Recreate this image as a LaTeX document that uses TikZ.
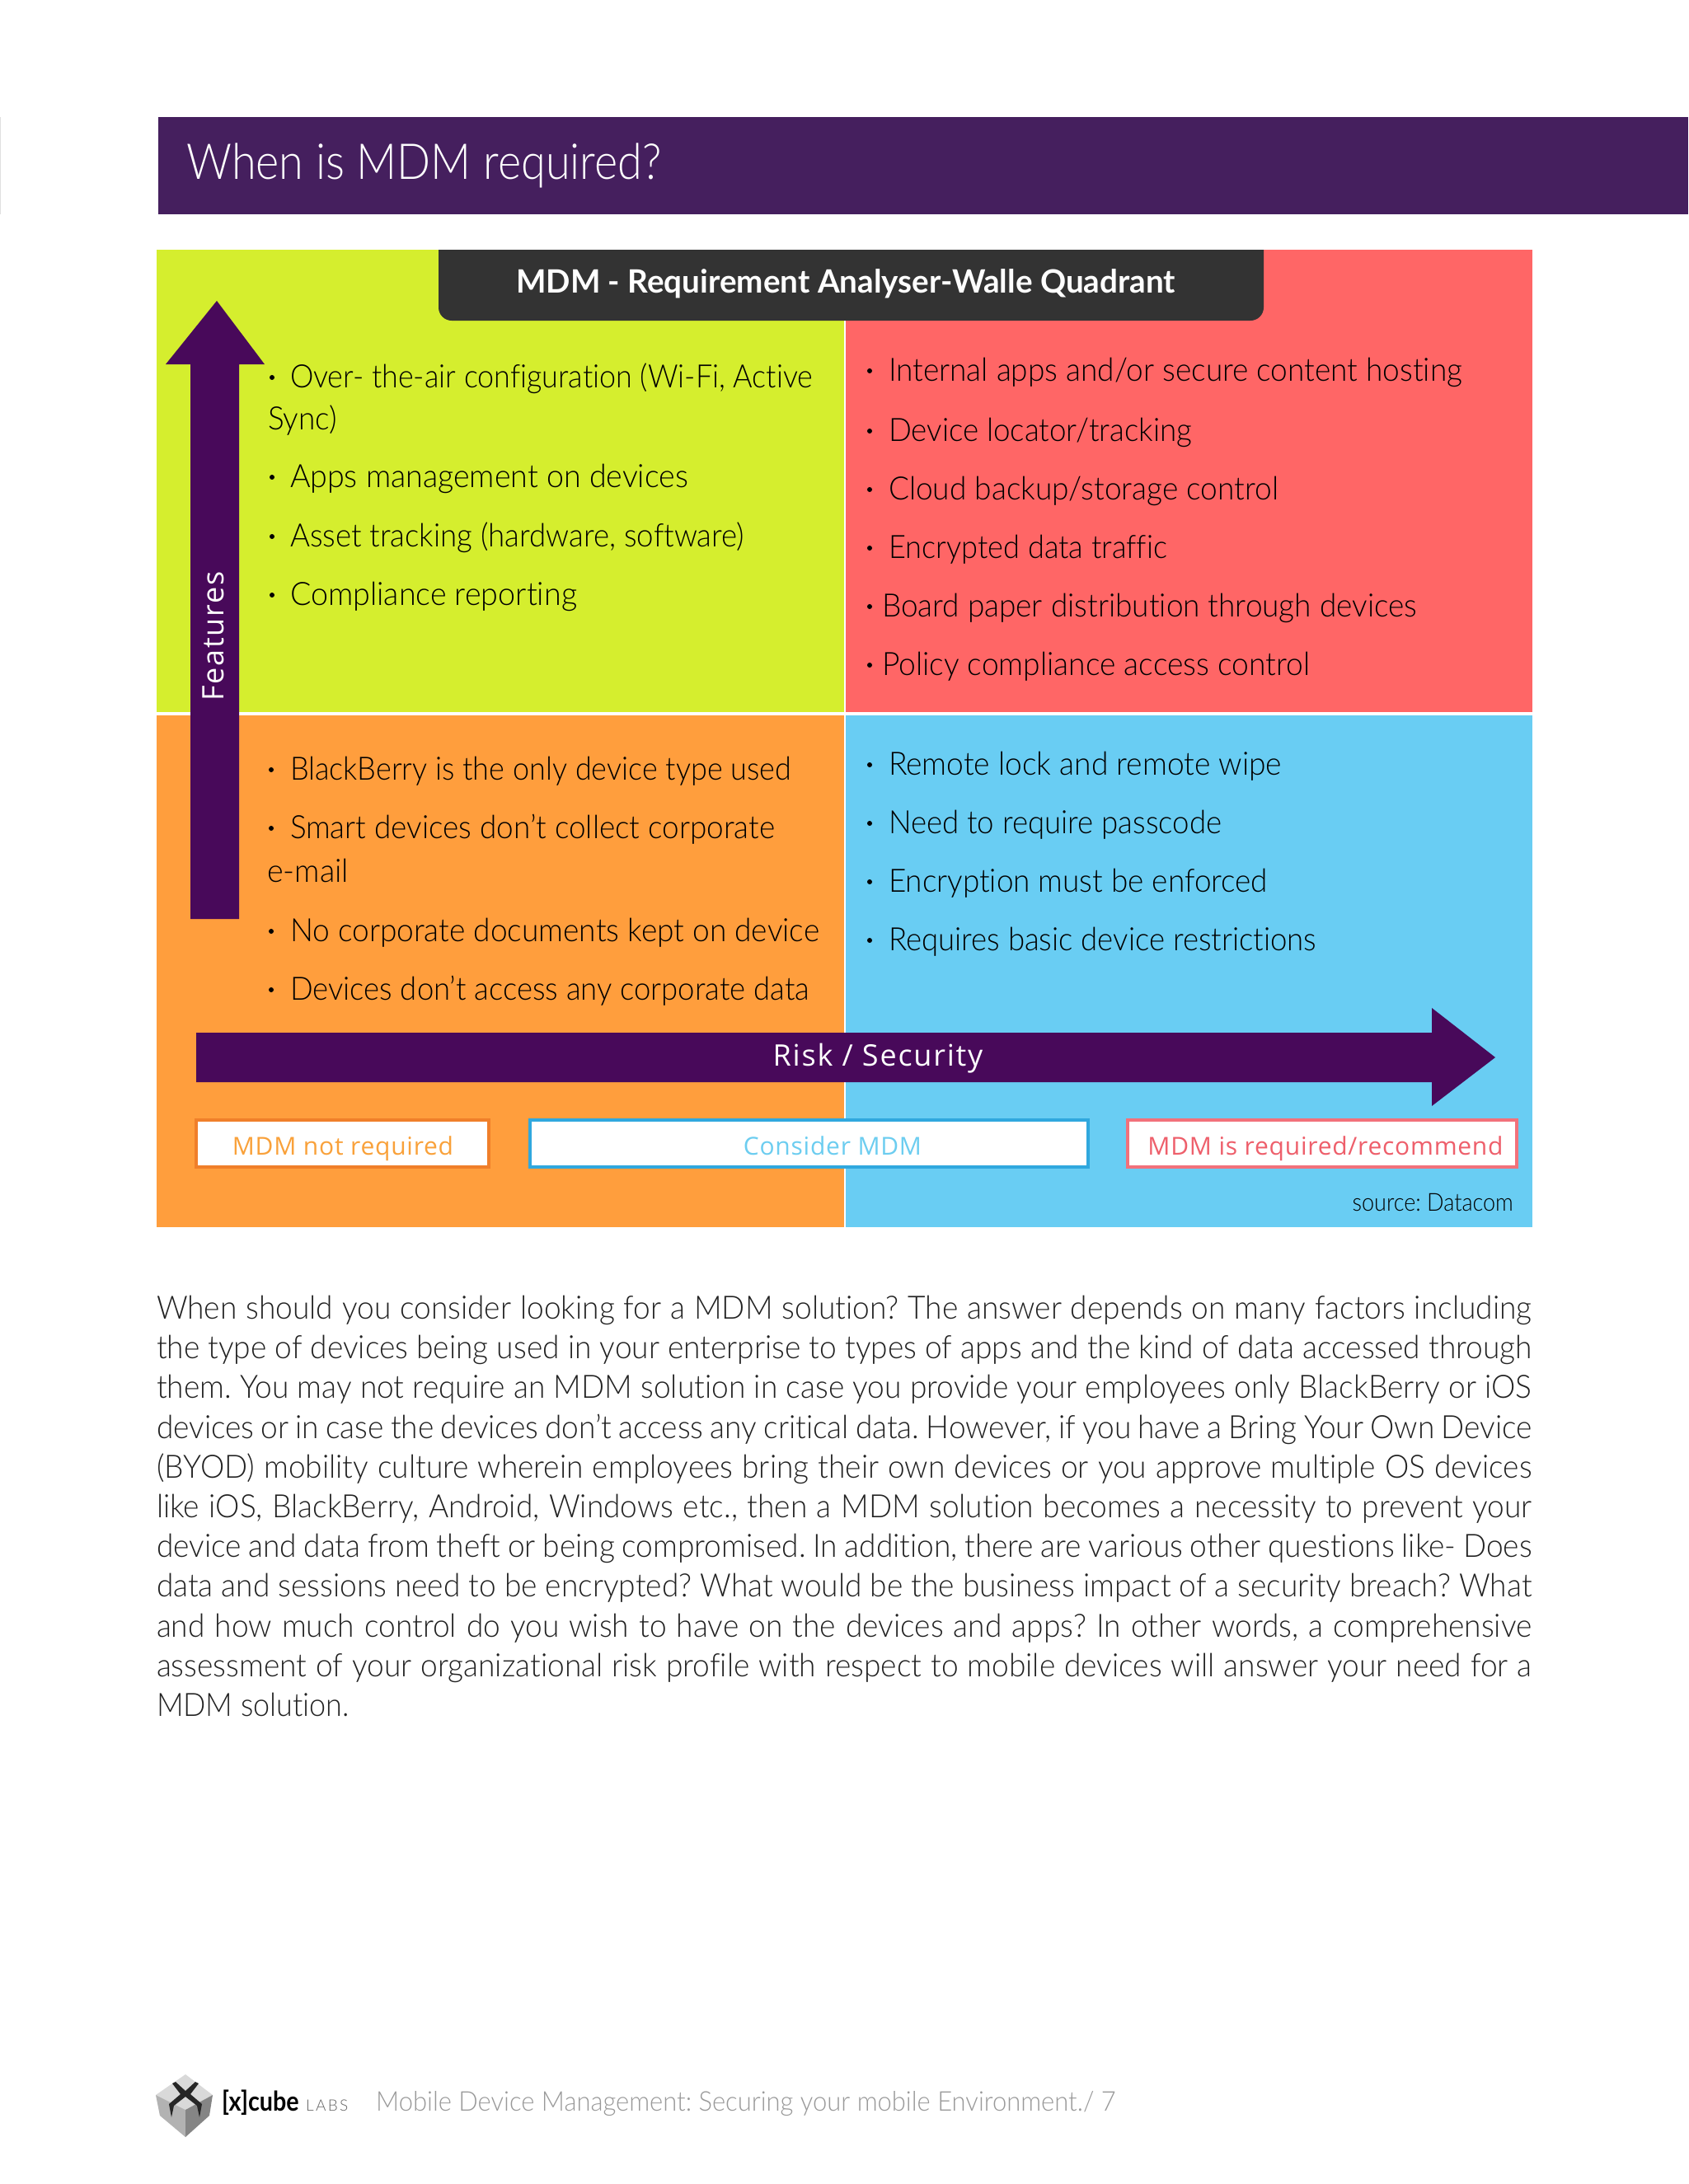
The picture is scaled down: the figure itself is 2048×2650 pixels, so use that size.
\documentclass[tikz,border=0pt]{standalone}
\usepackage{fontspec}
\usepackage{graphicx}
\setmainfont{Lato}[UprightFont=* Light,BoldFont=* Bold,Ligatures=NoCommon]
\newfontfamily\opensans{Open Sans}
\definecolor{qgreen}{HTML}{D5EE2E}
\definecolor{qred}{HTML}{FF6666}
\definecolor{qorange}{HTML}{FF9E3D}
\definecolor{qblue}{HTML}{69CDF3}
\definecolor{arrowpurple}{HTML}{48095A}
\definecolor{bannerpurple}{HTML}{451F5E}
\definecolor{barblack}{HTML}{333333}
\definecolor{bxorange}{HTML}{F07F2A}
\definecolor{bxblue}{HTML}{30A8DE}
\definecolor{bxred}{HTML}{F2717B}
\definecolor{txorange}{HTML}{F9A13A}
\definecolor{txblue}{HTML}{6CCDF0}
\definecolor{txred}{HTML}{EE5F6B}
\definecolor{bodytext}{HTML}{222222}
\newcommand\qsize{\fontsize{39}{39}\selectfont\frenchspacing}
\newcommand\bsize{\fontsize{39}{39}\selectfont\addfontfeatures{FakeStretch=0.95}\frenchspacing}
\newcommand\oplab{\opensans\fontsize{36}{36}\selectfont\addfontfeatures{LetterSpace=5}}
\newcommand\oplegend{\opensans\fontsize{30}{30}\selectfont\addfontfeatures{LetterSpace=2.5}}
\newcommand\bline[3]{\node[bodyln] (#1) at (190,#2) {\makebox[1668pt][s]{#3}};}
\newcommand\bulletat[3]{\node[bulletdot] (#1) at (#2,#3) {};}
\newcommand\qfit[2]{\resizebox{#1pt}{\height}{#2}}
\tikzset{
  bodyln/.style={anchor=base west,inner sep=0,outer sep=0,font=\bsize,text=bodytext},
  qtext/.style={anchor=base west,inner sep=0,outer sep=0,font=\qsize,text=black},
  bulletdot/.style={circle,fill=black,inner sep=0,minimum size=6pt},
  oplabel/.style={anchor=base,inner sep=0,outer sep=0,font=\oplab},
  leglabel/.style={anchor=base,inner sep=0,outer sep=0,font=\oplegend},
  legendbox/.style={draw,line width=4pt,fill=white},
  bigarrow/.style={fill=arrowpurple,draw=none}
}
\begin{document}
\begin{tikzpicture}[x=1pt,y=-1pt]
\useasboundingbox (0,0) rectangle (2048,2650);
\fill[white] (0,0) rectangle (2048,2650);
\draw[black!12,line width=1pt] (0.5,142) -- (0.5,260);
\fill[bannerpurple] (192,142) rectangle (2048,260);
\node[anchor=base west,inner sep=0,text=white,font=\fontsize{60}{60}\selectfont\addfontfeatures{FakeStretch=0.9}] (title) at (226,217) {When is MDM required?};
\fill[qgreen] (190,303) rectangle (1024,864);
\fill[qred] (1026,303) rectangle (1859,864);
\fill[qorange] (190,868) rectangle (1024,1489);
\fill[qblue] (1026,868) rectangle (1859,1489);
\fill[barblack] (532,303) -- (1533,303) {[rounded corners=16pt] -- (1533,389) -- (532,389)} -- cycle;
\node[anchor=base,inner sep=0,text=white,font=\bfseries\fontsize{39}{39}\selectfont\addfontfeatures{FakeStretch=0.99}] (bar) at (1026,355) {MDM - Requirement Analyser-Walle Quadrant};
\fill[bigarrow] (231,1115) -- (231,442) -- (201,442) -- (263,365) -- (321,442) -- (290,442) -- (290,1115) -- cycle;
\node[oplabel,rotate=90,text=white,anchor=base] (features) at (271,772) {Features};
\bulletat{b1}{330}{458}
\node[qtext] (l1) at (352,470) {\qfit{634}{Over- the-air configuration (Wi-Fi, Active}};
\node[qtext] (l1b) at (325,521) {\qfit{84}{Sync)}};
\bulletat{b2}{330}{579}
\node[qtext] (l2) at (352,591) {\qfit{483}{Apps management on devices}};
\bulletat{b3}{330}{651}
\node[qtext] (l3) at (352,663) {\qfit{551}{Asset tracking (hardware, software)}};
\bulletat{b4}{330}{722}
\node[qtext] (l4) at (352,734) {\qfit{348}{Compliance reporting}};
\bulletat{r1}{1055}{450}
\node[qtext] (r1t) at (1078,462) {\qfit{696}{Internal apps and/or secure content hosting}};
\bulletat{r2}{1055}{523}
\node[qtext] (r2t) at (1078,535) {\qfit{368}{Device locator/tracking}};
\bulletat{r3}{1055}{594}
\node[qtext] (r3t) at (1078,606) {\qfit{473}{Cloud backup/storage control}};
\bulletat{r4}{1055}{665}
\node[qtext] (r4t) at (1078,677) {\qfit{338}{Encrypted data traffic}};
\bulletat{r5}{1055}{736}
\node[qtext] (r5t) at (1070,748) {\qfit{649}{Board paper distribution through devices}};
\bulletat{r6}{1055}{807}
\node[qtext] (r6t) at (1070,819) {\qfit{519}{Policy compliance access control}};
\bulletat{o1}{329}{934}
\node[qtext] (o1t) at (352,946) {\qfit{608}{BlackBerry is the only device type used}};
\bulletat{o2}{329}{1005}
\node[qtext] (o2t) at (352,1017) {\qfit{588}{Smart devices don’t collect corporate}};
\node[qtext] (o2b) at (324,1070) {\qfit{99}{e-mail}};
\bulletat{o3}{329}{1130}
\node[qtext] (o3t) at (352,1142) {\qfit{642}{No corporate documents kept on device}};
\bulletat{o4}{329}{1201}
\node[qtext] (o4t) at (352,1213) {\qfit{630}{Devices don’t access any corporate data}};
\bulletat{s1}{1055}{928}
\node[qtext] (s1t) at (1078,940) {\qfit{477}{Remote lock and remote wipe}};
\bulletat{s2}{1055}{999}
\node[qtext] (s2t) at (1078,1011) {\qfit{404}{Need to require passcode}};
\bulletat{s3}{1055}{1070}
\node[qtext] (s3t) at (1078,1082) {\qfit{460}{Encryption must be enforced}};
\bulletat{s4}{1055}{1141}
\node[qtext] (s4t) at (1078,1153) {\qfit{519}{Requires basic device restrictions}};
\fill[bigarrow] (238,1253) -- (1737,1253) -- (1737,1223) -- (1814,1283) -- (1737,1342) -- (1737,1313) -- (238,1313) -- cycle;
\node[oplabel,text=white] (risk) at (1065,1293) {Risk / Security};
\draw[legendbox,draw=bxorange] (238,1359) rectangle (593,1416);
\draw[legendbox,draw=bxblue] (643,1359) rectangle (1320,1416);
\draw[legendbox,draw=bxred] (1368,1359) rectangle (1840,1416);
\node[leglabel,text=txorange] (ln) at (416,1401) {MDM not required};
\node[leglabel,text=txblue] (lc) at (1010,1401) {Consider MDM};
\node[leglabel,text=txred] (lr) at (1608,1401) {MDM is required/recommend};
\node[anchor=base east,inner sep=0,font=\fontsize{30}{30}\selectfont\addfontfeatures{FakeStretch=0.9}\frenchspacing] (src) at (1836,1469) {source: Datacom};
\bline{t1}{1600}{When should you consider looking for a MDM solution? The answer depends on many factors including}
\bline{t2}{1648}{the type of devices being used in your enterprise to types of apps and the kind of data accessed through}
\bline{t3}{1696}{them. You may not require an MDM solution in case you provide your employees only BlackBerry or iOS}
\bline{t4}{1745}{devices or in case the devices don’t access any critical data. However, if you have a Bring Your Own Device}
\bline{t5}{1793}{(BYOD) mobility culture wherein employees bring their own devices or you approve multiple OS devices}
\bline{t6}{1841}{like iOS, BlackBerry, Android, Windows etc., then a MDM solution becomes a necessity to prevent your}
\bline{t7}{1889}{device and data from theft or being compromised. In addition, there are various other questions like- Does}
\bline{t8}{1937}{data and sessions need to be encrypted? What would be the business impact of a security breach? What}
\bline{t9}{1986}{and how much control do you wish to have on the devices and apps? In other words, a comprehensive}
\bline{t10}{2034}{assessment of your organizational risk profile with respect to mobile devices will answer your need for a}
\node[bodyln] (t11) at (190,2082) {\qfit{234}{MDM solution.}};
% logo
\fill[black!15] (225,2517) -- (258,2542) -- (225,2560) -- (189,2542) -- cycle;
\fill[black!30] (189,2542) -- (225,2560) -- (225,2593) -- (194,2567) -- cycle;
\fill[black!48] (258,2542) -- (225,2560) -- (225,2593) -- (254,2567) -- cycle;
\fill[black!85] (209,2528) -- (213,2526) -- (225,2537) -- (237,2526) -- (241,2528) -- (231,2541) -- (245,2553) -- (242,2569) -- (239,2555) -- (225,2544) -- (211,2555) -- (208,2569) -- (205,2553) -- (219,2541) -- cycle;
\node[anchor=base west,inner sep=0,font=\bfseries\fontsize{33}{33}\selectfont\addfontfeatures{FakeStretch=0.87}] (cube) at (269,2561) {[x]cube};
\node[anchor=base west,inner sep=0,text=black!60,font=\fontsize{19}{19}\selectfont\addfontfeatures{LetterSpace=12}] (labs) at (371,2561) {LABS};
\node[anchor=base west,inner sep=0,text=black!40,font=\fontsize{33}{33}\selectfont\addfontfeatures{FakeStretch=0.938}\frenchspacing] (foot) at (456,2561) {Mobile Device Management: Securing your mobile Environment./ 7};
\end{tikzpicture}
\end{document}
